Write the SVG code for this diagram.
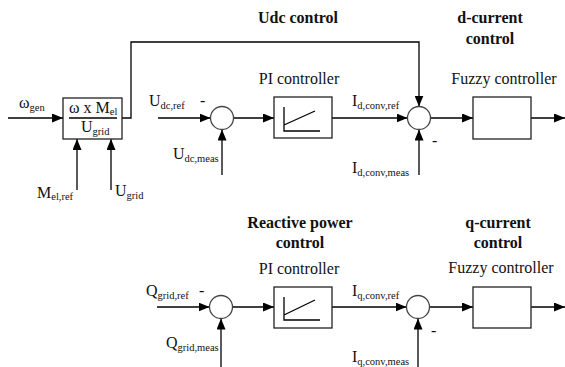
<svg xmlns="http://www.w3.org/2000/svg" width="565" height="367" viewBox="0 0 565 367">
<defs>
<marker id="ah" markerUnits="userSpaceOnUse" markerWidth="11" markerHeight="9" refX="11" refY="4.5" orient="auto">
<path d="M0,0 L11,4.5 L0,9 z" fill="#000"/>
</marker>
<style>
text{font-family:'Liberation Serif','Times New Roman','DejaVu Serif',serif;fill:#111;font-size:16px}
.b{font-weight:bold}
.s{font-size:10.5px}
.box{fill:#fff;stroke:#222;stroke-width:1.3}
.sum{fill:#fff;stroke:#444;stroke-width:1.3}
.ln{fill:none;stroke:#000;stroke-width:1.3}
.c{fill:none;stroke:#000;stroke-width:1.3;marker-end:url(#ah)}
</style>
</defs>
<rect width="565" height="367" fill="#fff"/>
<g id="connectors">
<path class="c" d="M8,118 H63"/>
<path class="c" d="M77,190 V139"/>
<path class="c" d="M111,190 V139"/>
<path class="c" d="M122,118 H131 V42 H419 V106.5"/>
<path class="c" d="M158,118 H210.5"/>
<path class="c" d="M222,175 V129.5"/>
<path class="c" d="M233.5,118 H274"/>
<path class="c" d="M332,118 H407.5"/>
<path class="c" d="M419,175 V129.5"/>
<path class="c" d="M430.5,118 H473"/>
<path class="c" d="M531,118 H565"/>
<path class="c" d="M157,307 H209.5"/>
<path class="c" d="M221,367 V318.5"/>
<path class="c" d="M232.5,307 H274"/>
<path class="c" d="M332,307 H406.5"/>
<path class="c" d="M418,367 V318.5"/>
<path class="c" d="M429.5,307 H473"/>
<path class="c" d="M531,307 H565"/>
</g>
<g id="labels" font-family="Liberation Serif, serif">
<text class="b" x="298" y="23" text-anchor="middle">Udc control</text>
<text class="b" x="490" y="23" text-anchor="middle">d-current</text>
<text class="b" x="490" y="44" text-anchor="middle">control</text>
<text class="b" x="300" y="228" text-anchor="middle">Reactive power</text>
<text class="b" x="300" y="248" text-anchor="middle">control</text>
<text class="b" x="498" y="228" text-anchor="middle">q-current</text>
<text class="b" x="498" y="248" text-anchor="middle">control</text>
<text x="19" y="108">ω<tspan class="s" dy="3">gen</tspan></text>
<text x="37" y="198">M<tspan class="s" dy="2">el,ref</tspan></text>
<text x="115" y="196">U<tspan class="s" dy="3">grid</tspan></text>
<text x="149" y="106">U<tspan class="s" dy="3">dc,ref</tspan></text>
<text x="200" y="106">-</text>
<text x="173" y="159">U<tspan class="s" dy="3">dc,meas</tspan></text>
<text x="352" y="106">I<tspan class="s" dy="3">d,conv,ref</tspan></text>
<text x="352" y="173">I<tspan class="s" dy="3">d,conv,meas</tspan></text>
<text x="432" y="146">-</text>
<text x="146" y="296">Q<tspan class="s" dy="3">grid,ref</tspan></text>
<text x="199" y="296">-</text>
<text x="166" y="348">Q<tspan class="s" dy="3">grid,meas</tspan></text>
<text x="352" y="296">I<tspan class="s" dy="3">q,conv,ref</tspan></text>
<text x="352" y="362">I<tspan class="s" dy="3">q,conv,meas</tspan></text>
<text x="431" y="336">-</text>
</g>
<g id="node-ratio">
<rect class="box" x="63" y="98" width="59" height="41"/>
<line class="ln" x1="69" y1="118" x2="117" y2="118"/>
<text x="69" y="113">ω x M<tspan class="s" dy="2">el</tspan></text>
<text x="81" y="132">U<tspan class="s" dy="3">grid</tspan></text>
</g>
<g id="node-sum1"><circle class="sum" cx="222" cy="118" r="11.5"/></g>
<g id="node-pi1">
<text x="299" y="84" text-anchor="middle">PI controller</text>
<rect class="box" x="274" y="97" width="58" height="41"/>
<path class="ln" d="M284,107 V131 H320 M284,125 L315,111"/>
</g>
<g id="node-sum2"><circle class="sum" cx="419" cy="118" r="11.5"/></g>
<g id="node-fuzzy1">
<text x="504" y="84" text-anchor="middle">Fuzzy controller</text>
<rect class="box" x="473" y="97" width="58" height="42"/>
</g>
<g id="node-sum3"><circle class="sum" cx="221" cy="307" r="11.5"/></g>
<g id="node-pi2">
<text x="299" y="274" text-anchor="middle">PI controller</text>
<rect class="box" x="274" y="287" width="58" height="41"/>
<path class="ln" d="M284,297 V320 H320 M284,315 L315,300"/>
</g>
<g id="node-sum4"><circle class="sum" cx="418" cy="307" r="11.5"/></g>
<g id="node-fuzzy2">
<text x="501" y="273" text-anchor="middle">Fuzzy controller</text>
<rect class="box" x="473" y="287" width="58" height="41"/>
</g>
</svg>
